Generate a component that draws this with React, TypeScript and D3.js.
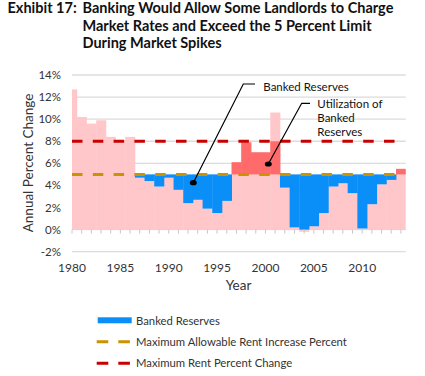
import React from 'react';
import * as d3 from 'd3';

const years = [1980, 1981, 1982, 1983, 1984, 1985, 1986, 1987, 1988, 1989, 1990, 1991, 1992, 1993, 1994, 1995, 1996, 1997, 1998, 1999, 2000, 2001, 2002, 2003, 2004, 2005, 2006, 2007, 2008, 2009, 2010, 2011, 2012, 2013, 2014];
const rentChange = [12.7, 10.2, 9.6, 9.9, 8.4, 8.1, 8.4, 4.7, 4.4, 3.9, 4.7, 3.6, 2.4, 2.7, 1.9, 1.5, 2.6, 6.1, 7.9, 7.0, 7.0, 10.6, 3.8, 0.2, -0.2, 0.3, 1.5, 3.9, 4.2, 3.3, 0.1, 2.3, 4.1, 4.5, 5.5];
const bankedReserves = [0, 0, 0, 0, 0, 0, 0, 0.3, 0.6, 1.1, 0.3, 1.4, 2.6, 2.3, 3.1, 3.5, 2.4, 0, 0, 0, 0, 0, 1.2, 4.8, 5.0, 4.7, 3.5, 1.1, 0.8, 1.7, 4.9, 2.7, 0.9, 0.5, 0];
const utilization = [0, 0, 0, 0, 0, 0, 0, 0, 0, 0, 0, 0, 0, 0, 0, 0, 0, 1.1, 2.9, 2.0, 2.0, 3.0, 0, 0, 0, 0, 0, 0, 0, 0, 0, 0, 0, 0, 0.5];
const allowableLimit = 5;
const maxRentChange = 8;
const yTicks = [-2, 0, 2, 4, 6, 8, 10, 12, 14];
const xLabelYears = [1980, 1985, 1990, 1995, 2000, 2005, 2010];
const titleLines = ['Banking Would Allow Some Landlords to Charge', 'Market Rates and Exceed the 5 Percent Limit', 'During Market Spikes'];

const FONT = 'Lato, "Open Sans", sans-serif';
const PINK = '#ffc7c9';
const BLUE = '#0a8ef8';
const SALMON = '#ff6b6b';
const DARKRED = '#c80000';
const GOLD = '#c99400';
const TEXT = '#333333';

export default function App() {
  const left = 72;
  const right = 405.7;
  const x = d3.scaleLinear().domain([1980, 2014.5]).range([left, right]);
  const y = d3.scaleLinear().domain([-2, 14]).range([251.7, 75]);
  const step = x(1981) - x(1980);

  return (
    <svg width={425} height={376} style={{ position: 'absolute', left: 0, top: 0, background: '#fff' }} fontFamily={FONT}>
      <defs>
        <clipPath id="plot">
          <rect x={left} y={60} width={right - left} height={200} />
        </clipPath>
      </defs>
      {/* Title */}
      <text x={7.5} y={12.7} fontSize={14.5} fontWeight={700} fill="#111">Exhibit 17:</text>
      {titleLines.map((t, i) => (
        <text key={i} x={82.5} y={12.7 + i * 17.8} fontSize={14.5} fontWeight={700} fill="#111">{t}</text>
      ))}

      {/* gridlines */}
      {yTicks.filter(t => t !== 0).map(t => (
        <line key={t} x1={left} x2={right} y1={y(t)} y2={y(t)} stroke="#dcdcdc" strokeWidth={1.3} />
      ))}
      <line x1={left} x2={right} y1={y(0)} y2={y(0)} stroke="#d0d0d0" strokeWidth={1} />

      {/* y labels */}
      {yTicks.map(t => (
        <text key={t} x={61} y={y(t)} dy="0.35em" textAnchor="end" fontSize={11.5} fill={TEXT}>{t}%</text>
      ))}
      <text transform={`translate(33,${163}) rotate(-90)`} textAnchor="middle" fontSize={13.5} fill={TEXT}>Annual Percent Change</text>

      <g clipPath="url(#plot)">
        {years.map((yr, i) => {
          const v = rentChange[i];
          return (
            <rect key={'p' + yr} x={x(yr - 0.5)} width={step + 0.4} y={y(Math.max(v, 0))} height={Math.abs(y(v) - y(0))} fill={PINK} />
          );
        })}
        {years.map((yr, i) => bankedReserves[i] > 0 ? (
          <rect key={'b' + yr} x={x(yr - 0.5)} width={step + 0.4} y={y(allowableLimit)} height={y(allowableLimit - bankedReserves[i]) - y(allowableLimit)} fill={BLUE} />
        ) : null)}
        {years.map((yr, i) => utilization[i] > 0 ? (
          <rect key={'u' + yr} x={x(yr - 0.5)} width={step + 0.4} y={y(allowableLimit + utilization[i])} height={y(allowableLimit) - y(allowableLimit + utilization[i])} fill={SALMON} />
        ) : null)}
      </g>

      {/* x ticks */}
      {years.map(yr => (
        <line key={'t' + yr} x1={x(yr)} x2={x(yr)} y1={y(0)} y2={y(0) + 4} stroke="#c8c8c8" strokeWidth={1} />
      ))}
      {xLabelYears.map(yr => (
        <text key={'l' + yr} x={x(yr)} y={267.5} dy="0.35em" textAnchor="middle" fontSize={12} fill={TEXT}>{yr}</text>
      ))}
      <text x={238.5} y={285} dy="0.35em" textAnchor="middle" fontSize={13.5} fill={TEXT}>Year</text>

      {/* dashed lines */}
      <line x1={x(1980)} x2={x(2014)} y1={y(maxRentChange)} y2={y(maxRentChange)} stroke={DARKRED} strokeWidth={3.2} strokeDasharray="10.5 10.3" />
      <line x1={x(1980)} x2={x(2014)} y1={y(allowableLimit)} y2={y(allowableLimit)} stroke={GOLD} strokeWidth={3} strokeDasharray="10.5 10.3" />

      {/* annotations */}
      <polyline points={`255,84 243.3,84 193.3,182.7`} fill="none" stroke="#000" strokeWidth={1.2} />
      <ellipse cx={193.3} cy={182.7} rx={3.5} ry={2.6} fill="#000" />
      <text x={263.3} y={86.7} dy="0.35em" fontSize={11.5} fill="#111">Banked Reserves</text>

      <polyline points={`310,103.3 301.7,103.3 268.3,164`} fill="none" stroke="#000" strokeWidth={1.2} />
      <ellipse cx={268.3} cy={164} rx={3.5} ry={2.6} fill="#000" />
      <text x={317.3} y={104} dy="0.35em" fontSize={11.5} fill="#111">Utilization of</text>
      <text x={317.3} y={118.3} dy="0.35em" fontSize={11.5} fill="#111">Banked</text>
      <text x={317.3} y={132.3} dy="0.35em" fontSize={11.5} fill="#111">Reserves</text>

      {/* legend */}
      <rect x={97.7} y={317.3} width={34} height={6} fill={BLUE} />
      <text x={136} y={320.7} dy="0.35em" fontSize={11.3} fill={TEXT}>Banked Reserves</text>
      <line x1={96.7} x2={130} y1={341.7} y2={341.7} stroke={GOLD} strokeWidth={3} strokeDasharray="11.6 10" />
      <text x={136} y={342} dy="0.35em" fontSize={11.3} fill={TEXT}>Maximum Allowable Rent Increase Percent</text>
      <line x1={96.7} x2={130} y1={363.3} y2={363.3} stroke={DARKRED} strokeWidth={3} strokeDasharray="11.6 10" />
      <text x={136} y={363.5} dy="0.35em" fontSize={11.3} fill={TEXT}>Maximum Rent Percent Change</text>
    </svg>
  );
}
